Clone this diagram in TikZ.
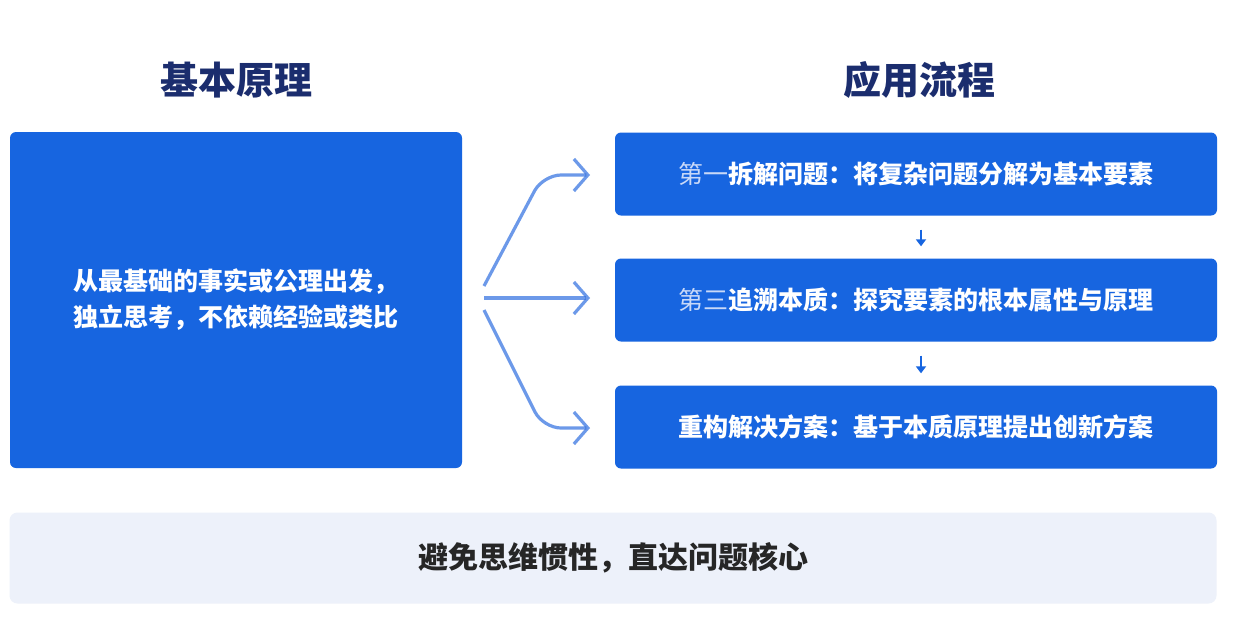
\documentclass[tikz,border=0pt]{standalone}
\usepackage{fontspec}
\setmainfont{Noto Sans CJK SC}
\newfontfamily\cjk{Noto Sans CJK SC}
\usetikzlibrary{arrows.meta,positioning}
\definecolor{boxblue}{HTML}{1765E0}
\definecolor{titlenavy}{HTML}{1B2D6E}
\definecolor{bandgray}{HTML}{EDF1FA}
\definecolor{fanblue}{HTML}{2F6FE0}
\definecolor{stepgray}{HTML}{C9D9F8}
\tikzset{
  blue box/.style = {fill=boxblue, rounded corners=6, text=white, font=\cjk\bfseries\fontsize{25}{36}\selectfont, align=center, inner sep=0},
  title/.style = {text=titlenavy, font=\cjk\bfseries\fontsize{38}{40}\selectfont},
  fan/.style = {draw=fanblue, line width=3.2, draw opacity=0.7, rounded corners=18, -{Straight Barb[length=14,width=32,line width=3.2]}},
  flow arrow/.style = {draw=boxblue, line width=2.2, -{Triangle[length=7,width=10]}},
}
\begin{document}
\begin{tikzpicture}[x=1pt, y=-1pt]
  \fill[white] (0,0) rectangle (1233,633);
  \node[title] (T1) at (236,80) {基本原理};
  \node[title] (T2) at (919,80) {应用流程};
  \node[blue box, minimum width=452, minimum height=336] (L) at (236,300)
    {从最基础的事实或公理出发，\\独立思考，不依赖经验或类比};
  \node[blue box, minimum width=602, minimum height=83] (S1) at (916,174)
    {\textcolor{stepgray}{\mdseries 第一}拆解问题：将复杂问题分解为基本要素};
  \node[blue box, minimum width=602, minimum height=83] (S2) at (916,300)
    {\textcolor{stepgray}{\mdseries 第三}追溯本质：探究要素的根本属性与原理};
  \node[blue box, minimum width=602, minimum height=83] (S3) at (916,427)
    {重构解决方案：基于本质原理提出创新方案};
  \node[fill=bandgray, rounded corners=8, minimum width=1207, minimum height=91,
        font=\cjk\bfseries\fontsize{30}{34}\selectfont, text=black!85] (B) at (613,558)
    {避免思维惯性，直达问题核心};
  % fan arrows
  \coordinate (src) at (484,298);
  \coordinate (e1) at (590,175);
  \coordinate (e2) at (590,298);
  \coordinate (e3) at (590,428);
  \draw[fan] ([yshift=12]src) -- (543,175) -- (e1);
  \draw[fan] (src) -- (e2);
  \draw[fan] ([yshift=-12]src) -- (543,428) -- (e3);
  \draw[flow arrow] ([yshift=-14]S1.south -| 921,0) -- ([yshift=12]S2.north -| 921,0);
  \draw[flow arrow] ([yshift=-14]S2.south -| 921,0) -- ([yshift=12]S3.north -| 921,0);
\end{tikzpicture}
\end{document}
